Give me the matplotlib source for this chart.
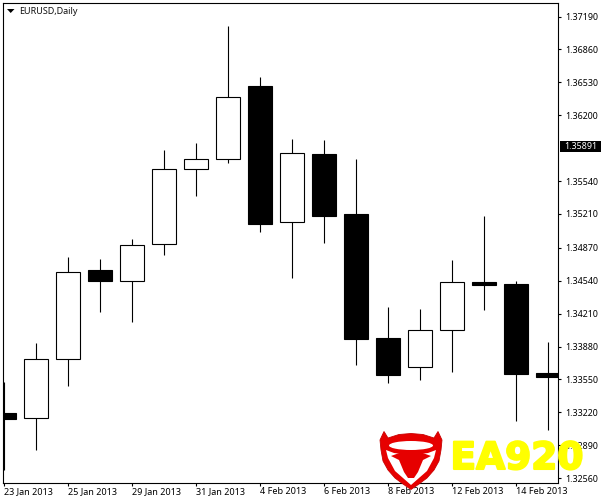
import matplotlib
matplotlib.use("Agg")
import matplotlib.pyplot as plt
import matplotlib.patheffects as pe
from matplotlib.patches import Polygon, Ellipse, Rectangle

plt.rcParams["font.family"] = ["Noto Sans", "DejaVu Sans"]

# price data, one candle per bar
opens = [1.33209, 1.33159, 1.33751, 1.34647, 1.34534, 1.34905, 1.35657, 1.35757, 1.36493,
         1.35125, 1.35811, 1.35209, 1.33965, 1.33671, 1.34042, 1.34527, 1.34506, 1.33614]
closes = [1.33155, 1.33751, 1.34624, 1.34540, 1.34895, 1.35657, 1.35757, 1.36379, 1.35111,
          1.35818, 1.35192, 1.33958, 1.33597, 1.34042, 1.34523, 1.34499, 1.33607, 1.33577]
highs = [1.33523, 1.33912, 1.34774, 1.34757, 1.34958, 1.35851, 1.35918, 1.37095, 1.36580,
         1.35958, 1.35951, 1.35757, 1.34273, 1.34253, 1.34747, 1.35189, 1.34534, 1.33925]
lows = [1.32640, 1.32841, 1.33483, 1.34226, 1.34128, 1.34800, 1.35392, 1.35717, 1.35031,
        1.34570, 1.34921, 1.33697, 1.33516, 1.33546, 1.33627, 1.34249, 1.33135, 1.33045]

date_ticks = [0, 2, 4, 6, 8, 10, 12, 14, 16]
date_labels = ["23 Jan 2013", "25 Jan 2013", "29 Jan 2013", "31 Jan 2013", "4 Feb 2013",
               "6 Feb 2013", "8 Feb 2013", "12 Feb 2013", "14 Feb 2013"]
price_ticks = [1.37190, 1.36860, 1.36530, 1.36200, 1.35540, 1.35210, 1.34870,
               1.34540, 1.34210, 1.33880, 1.33550, 1.33220, 1.32890, 1.32560]
last_price = 1.35891

W, H = 601, 500
fig = plt.figure(figsize=(W / 100, H / 100), dpi=100, facecolor="white")
left, right, top, bottom = 3.0, 558.0, 2.5, 482.5
ax = fig.add_axes([left / W, 1 - bottom / H, (right - left) / W, (bottom - top) / H])
ax.set_xlim(-0.034, 17.31)
ax.set_ylim(1.32516, 1.37331)

xs = list(range(len(opens)))
ax.vlines(xs, lows, highs, color="black", lw=0.8, zorder=2)
for x, o, c in zip(xs, opens, closes):
    face = "white" if c > o else "black"
    ax.bar(x, abs(c - o), bottom=min(o, c), width=0.74, facecolor=face,
           edgecolor="black", linewidth=0.8, zorder=3)

for s in ax.spines.values():
    s.set_linewidth(0.8)
ax.yaxis.tick_right()
ax.set_yticks(price_ticks)
ax.set_yticklabels(["%.5f" % p for p in price_ticks])
ax.set_xticks(date_ticks)
ax.set_xticklabels(date_labels, ha="left")
ax.tick_params(axis="y", length=2.2, width=0.8, pad=2.8, labelsize=6.4)
ax.tick_params(axis="x", length=2.2, width=0.8, pad=0.8, labelsize=6.5)

ax.text(16 / 555, 1 - 8.5 / 480, "EURUSD,Daily", transform=ax.transAxes, fontsize=6.5,
        va="center", ha="left", color="#111111")

# overlay in pixel coordinates for the price tag, the little triangle and the watermark
ov = fig.add_axes([0, 0, 1, 1], facecolor="none")
ov.set_xlim(0, W)
ov.set_ylim(H, 0)
ov.axis("off")
ov.add_patch(Polygon([(7, 9), (14.5, 9), (10.7, 13)], color="black", lw=0))

tag_y = H - ax.transData.transform((0, last_price))[1]
ov.add_patch(Rectangle((560, tag_y - 5), 41, 10.5, facecolor="black", lw=0))
ov.text(564, tag_y, "%.5f" % last_price, color="white", fontsize=6.4, va="center", ha="left")

red = "#e60000"
outer = [(384, 431.5), (380, 440), (381, 450), (383, 461), (388, 470), (395, 478), (403, 484), (411, 489.5),
         (419, 484), (427, 478), (434, 470), (439, 461), (441, 450), (442, 440), (438, 431.5),
         (434, 438), (423, 434.5), (411, 433.5), (399, 434.5), (388, 438)]
inner = [(386, 450), (394, 453), (411, 455), (428, 453), (436, 450), (434, 458), (427, 471),
         (411, 485), (395, 471), (388, 458)]
head = [(391, 456), (402, 452), (420, 452), (431, 456), (423, 460), (418, 472), (414, 478),
        (408, 478), (404, 472), (399, 460)]
ov.add_patch(Polygon(outer, facecolor=red, edgecolor="#c80000", lw=0.6, zorder=5))
ov.add_patch(Ellipse((411, 445.5), 44, 9, facecolor="white", lw=0, zorder=6))
ov.add_patch(Polygon(inner, facecolor="white", lw=0, zorder=6))
ov.add_patch(Polygon(head, facecolor=red, lw=0, zorder=7))
ov.text(450.5, 459, "EA920", color="#ffff00", fontsize=27, fontweight="bold", family="DejaVu Sans",
        va="center", ha="left", zorder=8,
        path_effects=[pe.withStroke(linewidth=1.5, foreground="#ffff00")])

fig.savefig("out.png", dpi=100)
